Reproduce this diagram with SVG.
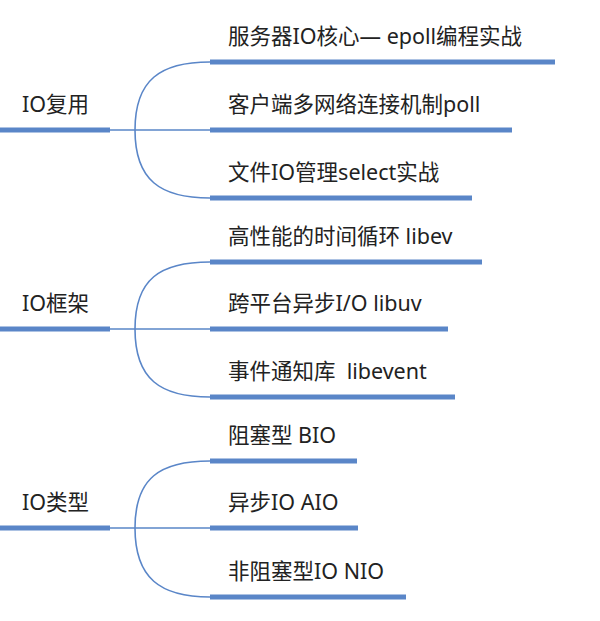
<svg xmlns="http://www.w3.org/2000/svg" width="600" height="621" viewBox="0 0 600 621">
<style>
.t{font-family:"Noto Sans","Noto Sans CJK SC",sans-serif;font-size:21.5px;fill:#222}
.bar{stroke:#5a86c8;stroke-width:5;fill:none}
.c{stroke:#5a86c8;stroke-width:1.6;fill:none}
</style>
<rect width="600" height="621" fill="#fff"/>
<g id="connectors">
<path class="c" d="M110 130H135M135 130C135 80 160 62 210 62M135 130H210M135 130C135 180 160 198 210 198"/>
<path class="c" d="M110 329H135M135 329C135 279 160 262 210 262M135 329H210M135 329C135 379 160 397 210 397"/>
<path class="c" d="M110 528H135M135 528C135 478 160 461 210 461M135 528H210M135 528C135 578 160 597 210 597"/>
</g>
<g id="g1"><line class="bar" x1="0" y1="130" x2="110" y2="130"/><text class="t" x="22" y="112">IO复用</text></g>
<g id="n11"><line class="bar" x1="210" y1="62" x2="555" y2="62"/><text class="t" x="228" y="44">服务器IO核心— epoll编程实战</text></g>
<g id="n12"><line class="bar" x1="210" y1="130" x2="512" y2="130"/><text class="t" x="228" y="112">客户端多网络连接机制poll</text></g>
<g id="n13"><line class="bar" x1="210" y1="198" x2="472" y2="198"/><text class="t" x="228" y="180">文件IO管理select实战</text></g>
<g id="g2"><line class="bar" x1="0" y1="329" x2="110" y2="329"/><text class="t" x="22" y="311">IO框架</text></g>
<g id="n21"><line class="bar" x1="210" y1="262" x2="482" y2="262"/><text class="t" x="228" y="244">高性能的时间循环 libev</text></g>
<g id="n22"><line class="bar" x1="210" y1="329" x2="448" y2="329"/><text class="t" x="228" y="311">跨平台异步I/O libuv</text></g>
<g id="n23"><line class="bar" x1="210" y1="397" x2="455" y2="397"/><text class="t" x="228" y="379" xml:space="preserve">事件通知库  libevent</text></g>
<g id="g3"><line class="bar" x1="0" y1="528" x2="110" y2="528"/><text class="t" x="22" y="510">IO类型</text></g>
<g id="n31"><line class="bar" x1="210" y1="461" x2="357" y2="461"/><text class="t" x="228" y="443">阻塞型 BIO</text></g>
<g id="n32"><line class="bar" x1="210" y1="528" x2="358" y2="528"/><text class="t" x="228" y="510">异步IO AIO</text></g>
<g id="n33"><line class="bar" x1="210" y1="597" x2="406" y2="597"/><text class="t" x="228" y="579">非阻塞型IO NIO</text></g>
</svg>
